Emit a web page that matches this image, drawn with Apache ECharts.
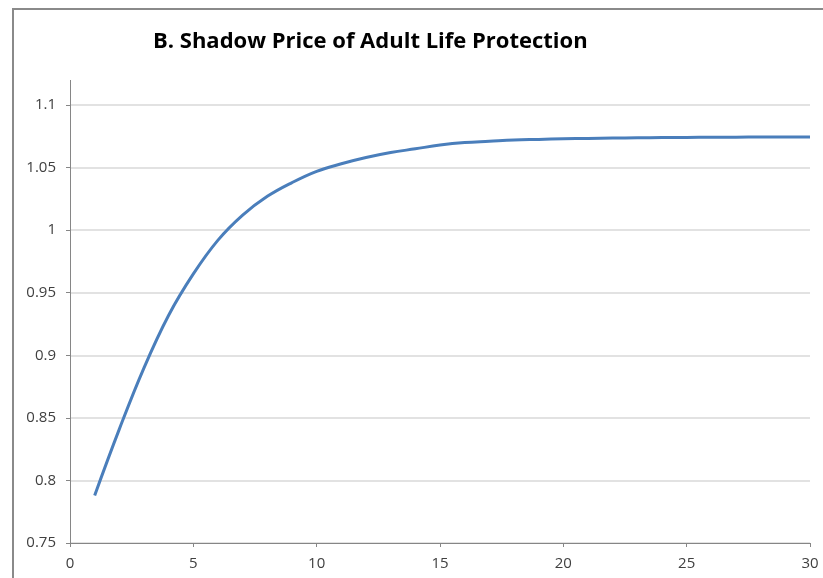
<!DOCTYPE html>
<html>
<head>
<meta charset="utf-8">
<script src="https://cdn.jsdelivr.net/npm/echarts@6/dist/echarts.min.js"></script>
<style>
  html, body { margin: 0; padding: 0; background: #fff; }
  #main { width: 823px; height: 578px; }
</style>
</head>
<body>
<div id="main"></div>
<script>
// years 1..30 and the shadow price
var years = [1, 2, 3, 4, 5, 6, 7, 8, 9, 10, 11, 12, 13, 14, 15,
  16, 17, 18, 19, 20, 21, 22, 23, 24, 25, 26, 27, 28, 29, 30];
var shadowPrice = [0.788, 0.841, 0.890, 0.932, 0.965, 0.992, 1.012, 1.027, 1.038, 1.047,
  1.053, 1.058, 1.062, 1.065, 1.068, 1.070, 1.071, 1.072, 1.0725, 1.073,
  1.0733, 1.0736, 1.0738, 1.074, 1.0741, 1.0742, 1.0743, 1.0744, 1.0744, 1.0745];
var yTicks = [0.75, 0.8, 0.85, 0.9, 0.95, 1, 1.05, 1.1];

var chart = echarts.init(document.getElementById('main'));

var points = [];
years.forEach(function (y, i) {
  points.push([y, shadowPrice[i]]);
});

var option = {
  backgroundColor: '#ffffff',
  animation: false,
  title: {
    text: 'B. Shadow Price of Adult Life Protection',
    left: 148,
    top: 26,
    textStyle: {
      fontFamily: 'Open Sans',
      fontWeight: 'bold',
      fontSize: 22,
      color: '#000'
    }
  },
  grid: { left: 70, right: 13, top: 105, bottom: 35 },
  xAxis: {
    type: 'value',
    min: 0,
    max: 30,
    interval: 5,
    axisLine: { show: true, lineStyle: { color: '#868686', width: 1 } },
    axisTick: { show: true, length: 4, lineStyle: { color: '#868686' } },
    axisLabel: { color: '#404040', fontSize: 15, fontFamily: 'Open Sans', margin: 13 },
    splitLine: { show: false }
  },
  yAxis: {
    type: 'value',
    min: 0.75,
    max: 1.1,
    interval: 0.05,
    axisLine: { show: true, lineStyle: { color: '#868686', width: 1 } },
    axisTick: { show: true, length: 4, lineStyle: { color: '#868686' } },
    axisLabel: {
      color: '#404040', fontSize: 15, fontFamily: 'Open Sans', margin: 14,
      formatter: function (v) {
        var t = yTicks.filter(function (k) { return Math.abs(k - v) < 1e-9; });
        return t.length ? String(t[0]) : '';
      }
    },
    splitLine: { show: true, lineStyle: { color: '#d9d9d9', width: 1.5 } }
  },
  series: [{
    type: 'line',
    data: points,
    smooth: 0.4,
    showSymbol: false,
    lineStyle: { color: '#4a7ebb', width: 3 }
  }],
  graphic: [
    // outer chart frame (cut off at right and bottom)
    { type: 'rect', shape: { x: 13, y: 9, width: 840, height: 600 },
      style: { fill: null, stroke: '#8a8a8a', lineWidth: 2 }, z: 10 },
    // axis line runs a bit above the top tick
    { type: 'line', shape: { x1: 70.5, y1: 80, x2: 70.5, y2: 106 },
      style: { stroke: '#868686', lineWidth: 1 }, z: 10 }
  ]
};

chart.setOption(option);
</script>
</body>
</html>
